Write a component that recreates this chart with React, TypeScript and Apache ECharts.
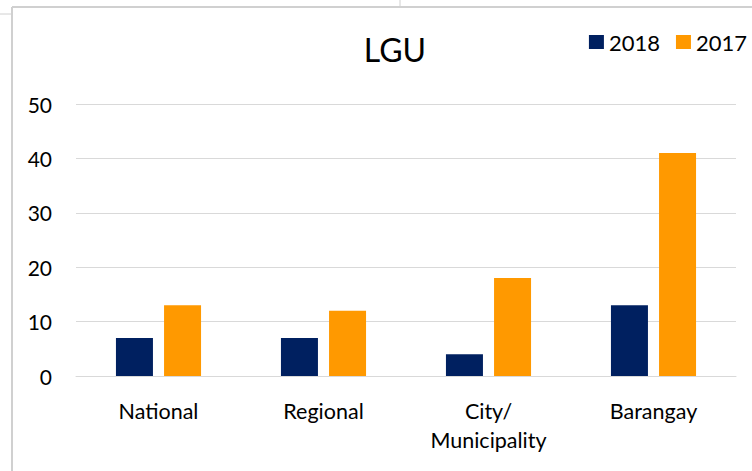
import React, { useEffect, useRef } from "react";
import * as echarts from "echarts";

const categories = ["National", "Regional", "City/\nMunicipality", "Barangay"];
const series2018 = [7, 7, 4, 13];
const series2017 = [13, 12, 18, 41];
const yTicks = { min: 0, max: 50, interval: 10 };

const FONT = "Lato, 'Noto Sans', sans-serif";

export default function App() {
  const ref = useRef<HTMLDivElement>(null);
  useEffect(() => {
    document.body.style.margin = "0";
    const chart = echarts.init(ref.current!, null, { renderer: "svg" });
    chart.setOption({
      animation: false,
      backgroundColor: "#ffffff",
      title: {
        text: "LGU",
        left: 390,
        top: 28,
        textAlign: "center",
        textStyle: { fontFamily: FONT, fontSize: 32, fontWeight: "normal", color: "#000" },
      },
      legend: {
        right: 0,
        top: 26,
        itemWidth: 15,
        itemHeight: 14,
        itemGap: 16,
        icon: "rect",
        textStyle: { fontFamily: FONT, fontSize: 22, color: "#000" },
        data: ["2018", "2017"],
      },
      graphic: [
        { type: "line", shape: { x1: 12, y1: 7, x2: 752, y2: 7 }, style: { stroke: "#d0d0d0", lineWidth: 2 } },
        { type: "line", shape: { x1: 12, y1: 7, x2: 12, y2: 471 }, style: { stroke: "#d0d0d0", lineWidth: 2 } },
        { type: "line", shape: { x1: 0, y1: 14, x2: 11, y2: 14 }, style: { stroke: "#d0d0d0", lineWidth: 1 } },
        { type: "line", shape: { x1: 400, y1: 0, x2: 400, y2: 6 }, style: { stroke: "#d0d0d0", lineWidth: 1 } },
      ],
      grid: { left: 76, right: 16, top: 104, bottom: 95, containLabel: false },
      xAxis: {
        type: "category",
        data: categories,
        axisLine: { show: true, lineStyle: { color: "#d9d9d9", width: 1 } },
        axisTick: { show: false },
        axisLabel: {
          margin: 20,
          fontFamily: FONT,
          fontSize: 21.5,
          color: "#000",
          lineHeight: 29,
          interval: 0,
        },
      },
      yAxis: {
        type: "value",
        min: yTicks.min,
        max: yTicks.max,
        interval: yTicks.interval,
        axisLine: { show: false },
        axisTick: { show: false },
        splitLine: { lineStyle: { color: "#d9d9d9", width: 1 } },
        axisLabel: { margin: 24, fontFamily: FONT, fontSize: 21, color: "#000" },
      },
      series: [
        {
          name: "2018",
          type: "bar",
          data: series2018,
          barWidth: 37,
          barGap: "30%",
          itemStyle: { color: "#002060" },
        },
        {
          name: "2017",
          type: "bar",
          data: series2017,
          barWidth: 37,
          itemStyle: { color: "#FF9900" },
        },
      ],
    });
    return () => chart.dispose();
  }, []);
  return <div ref={ref} style={{ width: 752, height: 471 }} />;
}
